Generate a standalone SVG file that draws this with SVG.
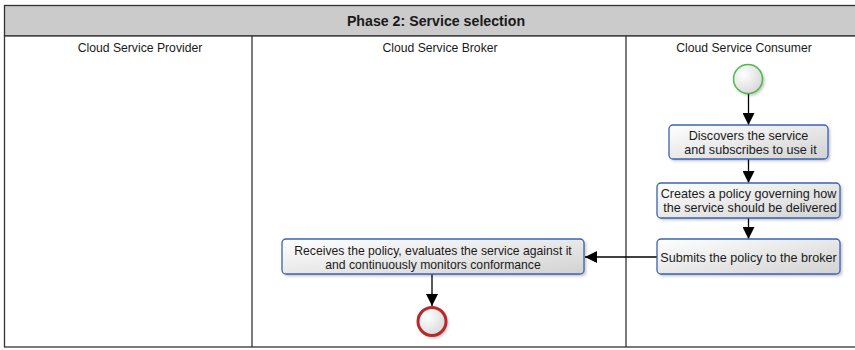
<svg xmlns="http://www.w3.org/2000/svg" width="855" height="350" viewBox="0 0 855 350">
<style>
  .lbl{font-family:"Liberation Sans",Arial,sans-serif;font-size:12.2px;fill:#1a1a1a;text-anchor:middle;dominant-baseline:central}
  .blbl{font-family:"Liberation Sans",Arial,sans-serif;font-size:12.6px;fill:#1a1a1a;text-anchor:middle;dominant-baseline:central}
  .title{font-family:"Liberation Sans",Arial,sans-serif;font-size:14.2px;font-weight:bold;fill:#1a1a1a;text-anchor:middle;dominant-baseline:central}
  .box{fill:url(#g);stroke:#3b62b5;stroke-width:1.3}
  .shadow{fill:#000;opacity:0.25;filter:url(#blur)}
  .edge{stroke:#000;stroke-width:1.3;fill:none;marker-end:url(#arr)}
  .lane{stroke:#333;stroke-width:1.3;fill:none}
</style>
<defs>
  <linearGradient id="g" x1="0" y1="0" x2="1" y2="1">
    <stop offset="0" stop-color="#ffffff"/>
    <stop offset="1" stop-color="#d2d2d2"/>
  </linearGradient>
  <radialGradient id="cg" cx="0.35" cy="0.35" r="0.75">
    <stop offset="0" stop-color="#ffffff"/>
    <stop offset="1" stop-color="#d6d6d6"/>
  </radialGradient>
  <filter id="blur" x="-20%" y="-20%" width="140%" height="140%">
    <feGaussianBlur stdDeviation="1.5"/>
  </filter>
  <marker id="arr" markerWidth="12" markerHeight="12" refX="12" refY="6" orient="auto" markerUnits="userSpaceOnUse">
    <path d="M0,0 L12,6 L0,12 Z" fill="#000"/>
  </marker>
</defs>

<g id="pool">
  <rect x="4.5" y="5.5" width="856" height="30.5" fill="#cbcbcb" stroke="#333" stroke-width="1.3"/>
  <text class="title" x="436" y="21">Phase 2: Service selection</text>
  <rect x="4.5" y="36" width="856" height="311" fill="#fff" stroke="#333" stroke-width="1.3"/>
  <line class="lane" x1="252" y1="36" x2="252" y2="347"/>
  <line class="lane" x1="626" y1="36" x2="626" y2="347"/>
</g>

<g id="lane-provider"><text class="lbl" x="140" y="48">Cloud Service Provider</text></g>
<g id="lane-broker"><text class="lbl" x="440" y="48">Cloud Service Broker</text></g>
<g id="lane-consumer"><text class="lbl" x="744" y="48">Cloud Service Consumer</text></g>

<g id="edges">
  <line class="edge" x1="748.5" y1="94" x2="748.5" y2="125"/>
  <line class="edge" x1="748.5" y1="159" x2="748.5" y2="183"/>
  <line class="edge" x1="748.5" y1="218" x2="748.5" y2="239"/>
  <line class="edge" x1="657" y1="257" x2="585" y2="257"/>
  <line class="edge" x1="432" y1="274" x2="432" y2="306"/>
</g>

<g id="start">
  <circle cx="750" cy="81" r="14.5" class="shadow"/>
  <circle cx="748" cy="79" r="14.5" fill="url(#cg)" stroke="#4cba4c" stroke-width="1.5"/>
</g>

<g id="n1">
  <rect x="671" y="127" width="159" height="34" rx="4" class="shadow"/>
  <rect x="669" y="125" width="159" height="34" rx="4" class="box"/>
  <text class="blbl" x="748.5" y="136">Discovers the service</text>
  <text class="blbl" x="750.5" y="150">and subscribes to use it</text>
</g>

<g id="n2">
  <rect x="659" y="185" width="183" height="35" rx="4" class="shadow"/>
  <rect x="657" y="183" width="183" height="35" rx="4" class="box"/>
  <text class="blbl" x="748.5" y="193.5">Creates a policy governing how</text>
  <text class="blbl" x="750" y="208">the service should be delivered</text>
</g>

<g id="n3">
  <rect x="659" y="241" width="183" height="35" rx="4" class="shadow"/>
  <rect x="657" y="239" width="183" height="35" rx="4" class="box"/>
  <text class="blbl" x="748.5" y="257.5">Submits the policy to the broker</text>
</g>

<g id="n4">
  <rect x="284" y="241" width="302" height="35" rx="4" class="shadow"/>
  <rect x="282" y="239" width="302" height="35" rx="4" class="box"/>
  <text class="lbl" x="433" y="250.5">Receives the policy, evaluates the service against it</text>
  <text class="lbl" x="433" y="265">and continuously monitors conformance</text>
</g>

<g id="end">
  <circle cx="434" cy="324" r="14" class="shadow"/>
  <circle cx="432" cy="321.5" r="14" fill="url(#cg)" stroke="#b52a2a" stroke-width="3"/>
</g>
</svg>
